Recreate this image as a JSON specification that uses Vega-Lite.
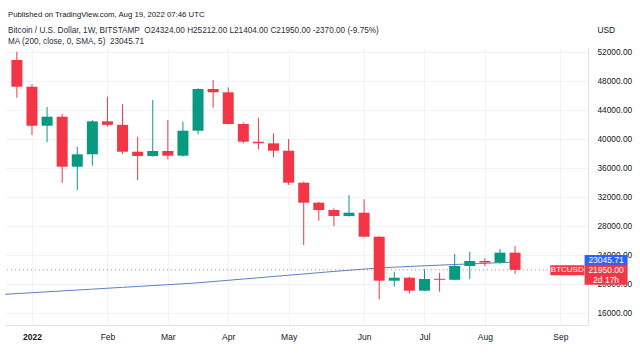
{
  "$schema": "https://vega.github.io/schema/vega-lite/v6.json",
  "width": 583,
  "height": 277,
  "autosize": {"type": "none"},
  "padding": {"left": 5, "top": 48, "right": 52, "bottom": 29},
  "background": "#ffffff",
  "config": {
    "font": "Liberation Sans",
    "view": {"stroke": null},
    "axis": {"labelOverlap": false, "labelSeparation": 0}
  },
  "title": {
    "text": "Published on TradingView.com, Aug 19, 2022 07:46 UTC",
    "subtitle": ["Bitcoin / U.S. Dollar, 1W, BITSTAMP\u00a0\u00a0O24324.00\u00a0H25212.00\u00a0L21404.00\u00a0C21950.00\u00a0-2370.00 (-9.75%)", "MA (200, close, 0, SMA, 5)\u00a0\u00a023045.71"],
    "anchor": "start",
    "frame": "group",
    "fontSize": 7.8,
    "fontWeight": "normal",
    "color": "#131722",
    "subtitleFontSize": 8.2,
    "subtitleColor": "#2a2e39",
    "subtitlePadding": 8,
    "subtitleLineHeight": 11,
    "offset": -20,
    "dx": 3
  },
  "datasets": {
    "candles": [
      {"date": "2021-12-27", "open": 50900, "high": 52040, "low": 45700, "close": 47210},
      {"date": "2022-01-03", "open": 47210, "high": 47545, "low": 40550, "close": 41834},
      {"date": "2022-01-10", "open": 41834, "high": 44414, "low": 39545, "close": 43076},
      {"date": "2022-01-17", "open": 43076, "high": 43450, "low": 33972, "close": 36179},
      {"date": "2022-01-24", "open": 36179, "high": 38938, "low": 32966, "close": 37890},
      {"date": "2022-01-31", "open": 37890, "high": 42600, "low": 36317, "close": 42440},
      {"date": "2022-02-07", "open": 42440, "high": 45835, "low": 41700, "close": 41950},
      {"date": "2022-02-14", "open": 41950, "high": 44786, "low": 37931, "close": 38248},
      {"date": "2022-02-21", "open": 38248, "high": 40317, "low": 34345, "close": 37655},
      {"date": "2022-02-28", "open": 37655, "high": 45379, "low": 37560, "close": 38345},
      {"date": "2022-03-07", "open": 38345, "high": 42621, "low": 37200, "close": 37697},
      {"date": "2022-03-14", "open": 37697, "high": 42386, "low": 37560, "close": 41145},
      {"date": "2022-03-21", "open": 41145, "high": 47000, "low": 40648, "close": 46897},
      {"date": "2022-03-28", "open": 46897, "high": 48138, "low": 44317, "close": 46441},
      {"date": "2022-04-04", "open": 46441, "high": 47131, "low": 42000, "close": 42069},
      {"date": "2022-04-11", "open": 42069, "high": 42250, "low": 39400, "close": 39628},
      {"date": "2022-04-18", "open": 39628, "high": 42938, "low": 38579, "close": 39400},
      {"date": "2022-04-25", "open": 39400, "high": 40786, "low": 37476, "close": 38386},
      {"date": "2022-05-02", "open": 38386, "high": 40000, "low": 33655, "close": 33972},
      {"date": "2022-05-09", "open": 33972, "high": 34110, "low": 25379, "close": 31214},
      {"date": "2022-05-16", "open": 31214, "high": 31350, "low": 28731, "close": 30207},
      {"date": "2022-05-23", "open": 30207, "high": 30441, "low": 28000, "close": 29379},
      {"date": "2022-05-30", "open": 29379, "high": 32276, "low": 29283, "close": 29834},
      {"date": "2022-06-06", "open": 29834, "high": 31683, "low": 26440, "close": 26524},
      {"date": "2022-06-13", "open": 26524, "high": 26600, "low": 17890, "close": 20455},
      {"date": "2022-06-20", "open": 20455, "high": 21697, "low": 19628, "close": 20869},
      {"date": "2022-06-27", "open": 20869, "high": 21000, "low": 18717, "close": 19076},
      {"date": "2022-07-04", "open": 19076, "high": 22028, "low": 19034, "close": 20690},
      {"date": "2022-07-11", "open": 20720, "high": 21559, "low": 18938, "close": 20580},
      {"date": "2022-07-18", "open": 20580, "high": 24138, "low": 20550, "close": 22483},
      {"date": "2022-07-25", "open": 22483, "high": 24455, "low": 20648, "close": 23172},
      {"date": "2022-08-01", "open": 23172, "high": 23545, "low": 22483, "close": 22960},
      {"date": "2022-08-08", "open": 22960, "high": 24828, "low": 22800, "close": 24324},
      {"date": "2022-08-15", "open": 24324, "high": 25212, "low": 21404, "close": 21950}
    ],
    "ma": [
      {"date": "2021-12-20", "ma": 18555},
      {"date": "2021-12-27", "ma": 18677},
      {"date": "2022-01-03", "ma": 18800},
      {"date": "2022-01-10", "ma": 18923},
      {"date": "2022-01-17", "ma": 19046},
      {"date": "2022-01-24", "ma": 19169},
      {"date": "2022-01-31", "ma": 19292},
      {"date": "2022-02-07", "ma": 19415},
      {"date": "2022-02-14", "ma": 19538},
      {"date": "2022-02-21", "ma": 19661},
      {"date": "2022-02-28", "ma": 19784},
      {"date": "2022-03-07", "ma": 19907},
      {"date": "2022-03-14", "ma": 20030},
      {"date": "2022-03-21", "ma": 20170},
      {"date": "2022-03-28", "ma": 20340},
      {"date": "2022-04-04", "ma": 20510},
      {"date": "2022-04-11", "ma": 20685},
      {"date": "2022-04-18", "ma": 20860},
      {"date": "2022-04-25", "ma": 21035},
      {"date": "2022-05-02", "ma": 21210},
      {"date": "2022-05-09", "ma": 21385},
      {"date": "2022-05-16", "ma": 21560},
      {"date": "2022-05-23", "ma": 21735},
      {"date": "2022-05-30", "ma": 21900},
      {"date": "2022-06-06", "ma": 22060},
      {"date": "2022-06-13", "ma": 22200},
      {"date": "2022-06-20", "ma": 22320},
      {"date": "2022-06-27", "ma": 22420},
      {"date": "2022-07-04", "ma": 22510},
      {"date": "2022-07-11", "ma": 22600},
      {"date": "2022-07-18", "ma": 22690},
      {"date": "2022-07-25", "ma": 22770},
      {"date": "2022-08-01", "ma": 22850},
      {"date": "2022-08-08", "ma": 22940},
      {"date": "2022-08-15", "ma": 23045.71}
    ],
    "tags": [
      {"kind": "ma", "label": "23045.71", "price": 23045.71},
      {"kind": "last", "label": "21950.00", "sub": "2d 17h", "price": 21950},
      {"kind": "sym", "label": "BTCUSD", "price": 21950}
    ]
  },
  "layer": [
    {
      "data": {"name": "ma"},
      "mark": {"type": "line", "color": "#5a82c0", "strokeWidth": 1, "clip": true},
      "encoding": {
        "x": {
          "field": "date", "type": "temporal",
          "scale": {"type": "utc", "domain": [{"year": 2021, "month": 12, "date": 23, "hours": 19, "minutes": 24, "utc": true}, {"year": 2022, "month": 9, "date": 15, "hours": 12, "utc": true}]},
          "axis": {
            "title": null,
            "values": [
              {"year": 2022, "month": 1, "date": 3, "utc": true},
              {"year": 2022, "month": 2, "date": 7, "utc": true},
              {"year": 2022, "month": 3, "date": 7, "utc": true},
              {"year": 2022, "month": 4, "date": 4, "utc": true},
              {"year": 2022, "month": 5, "date": 2, "utc": true},
              {"year": 2022, "month": 6, "date": 6, "utc": true},
              {"year": 2022, "month": 7, "date": 4, "utc": true},
              {"year": 2022, "month": 8, "date": 1, "utc": true},
              {"year": 2022, "month": 9, "date": 5, "utc": true}
            ],
            "tickCount": 30,
            "labelExpr": "utcmonth(datum.value) == 0 ? '2022' : utcFormat(datum.value, '%b')",
            "labelFontWeight": {"condition": {"test": "utcmonth(datum.value) == 0", "value": "bold"}, "value": "normal"},
            "labelFontSize": 8.5,
            "labelColor": "#131722",
            "labelPadding": 7,
            "labelOverlap": false,
            "ticks": false,
            "domain": true,
            "domainColor": "#e0e3eb",
            "grid": true,
            "gridColor": "#f0f3fa",
            "labelFlush": false
          }
        },
        "y": {
          "field": "ma", "type": "quantitative",
          "scale": {"domain": [14345, 52552], "nice": false, "zero": false},
          "axis": {
            "orient": "right",
            "title": "USD",
            "titleAngle": 0,
            "titleAlign": "left",
            "titleBaseline": "middle",
            "titleX": 9,
            "titleY": -18,
            "titleFontSize": 8.3,
            "titleFontWeight": "normal",
            "titleColor": "#131722",
            "values": [16000, 20000, 24000, 28000, 32000, 36000, 40000, 44000, 48000, 52000],
            "tickCount": 30,
            "format": ".2f",
            "labelFontSize": 8.3,
            "labelColor": "#131722",
            "labelPadding": 9,
            "labelOverlap": false,
            "labelFlush": false,
            "labelBound": false,
            "ticks": false,
            "domain": true,
            "domainColor": "#e0e3eb",
            "grid": true,
            "gridColor": "#f0f3fa"
          }
        }
      }
    },
    {
      "data": {"name": "tags"},
      "transform": [{"filter": "datum.kind == 'last'"}],
      "mark": {"type": "rule", "color": "#f23645", "strokeDash": [1, 3], "strokeWidth": 1, "opacity": 0.7},
      "encoding": {"y": {"field": "price", "type": "quantitative", "axis": {"orient": "right"}}}
    },
    {
      "data": {"name": "candles"},
      "mark": {"type": "rule", "strokeWidth": 1},
      "encoding": {
        "x": {"field": "date", "type": "temporal"},
        "y": {"field": "low", "type": "quantitative", "axis": {"orient": "right"}},
        "y2": {"field": "high"},
        "color": {"condition": {"test": "datum.close >= datum.open", "value": "#089981"}, "value": "#f23645"}
      }
    },
    {
      "data": {"name": "candles"},
      "mark": {"type": "bar", "width": 11},
      "encoding": {
        "x": {"field": "date", "type": "temporal"},
        "y": {"field": "open", "type": "quantitative", "axis": {"orient": "right"}},
        "y2": {"field": "close"},
        "color": {"condition": {"test": "datum.close >= datum.open", "value": "#089981"}, "value": "#f23645"}
      }
    },
    {
      "data": {"name": "tags"},
      "transform": [{"filter": "datum.kind == 'ma'"}],
      "mark": {"type": "tick", "orient": "horizontal", "thickness": 10, "size": 43, "color": "#2962ff", "yOffset": -2, "opacity": 1},
      "encoding": {
        "x": {"datum": {"year": 2022, "month": 9, "date": 26, "hours": 5, "utc": true}, "type": "temporal"},
        "y": {"field": "price", "type": "quantitative", "axis": {"orient": "right"}}
      }
    },
    {
      "data": {"name": "tags"},
      "transform": [{"filter": "datum.kind == 'last'"}],
      "mark": {"type": "tick", "orient": "horizontal", "thickness": 20, "size": 43, "color": "#f23645", "yOffset": 5, "opacity": 1},
      "encoding": {
        "x": {"datum": {"year": 2022, "month": 9, "date": 26, "hours": 5, "utc": true}, "type": "temporal"},
        "y": {"field": "price", "type": "quantitative", "axis": {"orient": "right"}}
      }
    },
    {
      "data": {"name": "tags"},
      "transform": [{"filter": "datum.kind == 'sym'"}],
      "mark": {"type": "tick", "orient": "horizontal", "thickness": 10, "size": 34, "color": "#f23645", "yOffset": 0.5, "opacity": 1},
      "encoding": {
        "x": {"datum": {"year": 2022, "month": 9, "date": 8, "hours": 5, "utc": true}, "type": "temporal"},
        "y": {"field": "price", "type": "quantitative", "axis": {"orient": "right"}}
      }
    },
    {
      "data": {"name": "tags"},
      "transform": [{"filter": "datum.kind == 'ma'"}],
      "mark": {"type": "text", "color": "#ffffff", "fontSize": 8.5, "align": "center", "baseline": "middle", "dy": -2},
      "encoding": {
        "x": {"datum": {"year": 2022, "month": 9, "date": 26, "hours": 5, "utc": true}, "type": "temporal"},
        "y": {"field": "price", "type": "quantitative", "axis": {"orient": "right"}},
        "text": {"field": "label"}
      }
    },
    {
      "data": {"name": "tags"},
      "transform": [{"filter": "datum.kind == 'last'"}],
      "mark": {"type": "text", "color": "#ffffff", "fontSize": 8.5, "align": "center", "baseline": "middle", "dy": 0},
      "encoding": {
        "x": {"datum": {"year": 2022, "month": 9, "date": 26, "hours": 5, "utc": true}, "type": "temporal"},
        "y": {"field": "price", "type": "quantitative", "axis": {"orient": "right"}},
        "text": {"field": "label"}
      }
    },
    {
      "data": {"name": "tags"},
      "transform": [{"filter": "datum.kind == 'last'"}],
      "mark": {"type": "text", "color": "#ffffff", "fontSize": 8.5, "align": "center", "baseline": "middle", "dy": 10},
      "encoding": {
        "x": {"datum": {"year": 2022, "month": 9, "date": 26, "hours": 5, "utc": true}, "type": "temporal"},
        "y": {"field": "price", "type": "quantitative", "axis": {"orient": "right"}},
        "text": {"field": "sub"}
      }
    },
    {
      "data": {"name": "tags"},
      "transform": [{"filter": "datum.kind == 'sym'"}],
      "mark": {"type": "text", "color": "#ffffff", "fontSize": 8, "align": "center", "baseline": "middle", "dy": 0.5},
      "encoding": {
        "x": {"datum": {"year": 2022, "month": 9, "date": 8, "hours": 5, "utc": true}, "type": "temporal"},
        "y": {"field": "price", "type": "quantitative", "axis": {"orient": "right"}},
        "text": {"field": "label"}
      }
    }
  ]
}
